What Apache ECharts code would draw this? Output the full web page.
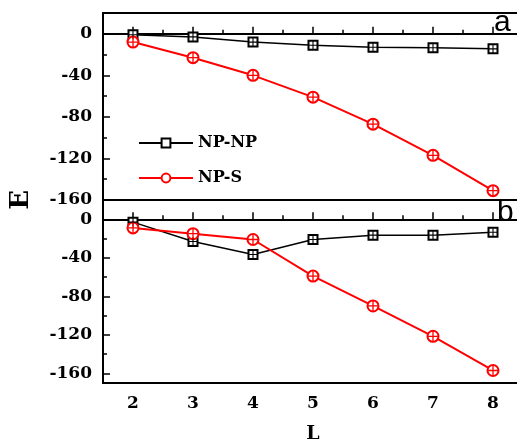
<!DOCTYPE html>
<html>
<head>
<meta charset="utf-8">
<script src="https://cdn.jsdelivr.net/npm/echarts@6/dist/echarts.min.js"></script>
<style>
html, body { margin: 0; padding: 0; background: #fff; overflow: hidden; }
#chart { width: 523px; height: 445px; }
</style>
</head>
<body>
<div id="chart"></div>
<script>
// L values and energies
var L = [2, 3, 4, 5, 6, 7, 8];
var aNPNP = [-1, -3, -8, -11, -13, -13.5, -14.5];
var aNPS = [-8, -23, -40, -61, -87, -117, -151];
var bNPNP = [-3, -23, -36.5, -21, -16.5, -16.5, -13.5];
var bNPS = [-9, -15, -21, -59, -90, -121.5, -157];

var xTicks = [2, 3, 4, 5, 6, 7, 8];
var xMinor = [2.5, 3.5, 4.5, 5.5, 6.5, 7.5];
var yTicks = [-160, -120, -80, -40, 0];
var yMinor = [-140, -100, -60, -20];

var serif = 'DejaVu Serif';
var plus = 'path://M0,4.4H10V5.6H0Z M4.4,0H5.6V10H4.4Z';

function pairs(ys) {
	return L.map(function (x, i) { return [x, ys[i]]; });
}

function xAx(grid, minor, labels) {
	return {
		type: 'value', gridIndex: grid, min: 1.5, max: 8.5, position: 'bottom',
		axisLine: { show: !minor, lineStyle: { color: '#000', width: 2 } },
		axisTick: {
			inside: true, length: minor ? 4 : 7,
			customValues: minor ? xMinor : xTicks,
			lineStyle: { color: '#000', width: 1.5 }
		},
		axisLabel: {
			show: labels, customValues: xTicks, margin: 12,
			color: '#000', fontFamily: serif, fontWeight: 'bold', fontSize: 17
		},
		name: labels ? 'L' : '', nameLocation: 'middle', nameGap: 42,
		nameTextStyle: { color: '#000', fontFamily: serif, fontWeight: 'bold', fontSize: 19 },
		splitLine: { show: false }
	};
}

function yAx(grid, minor, min) {
	return {
		type: 'value', gridIndex: grid, min: min, max: 20, position: 'left',
		axisLine: { show: !minor, lineStyle: { color: '#000', width: 2 } },
		axisTick: {
			inside: true, length: minor ? 4 : 7,
			customValues: minor ? yMinor : yTicks,
			lineStyle: { color: '#000', width: 1.5 }
		},
		axisLabel: {
			show: !minor, customValues: yTicks, margin: 11,
			color: '#000', fontFamily: serif, fontWeight: 'bold', fontSize: 17
		},
		splitLine: { show: false }
	};
}

function mainSeries(name, ys, xi, color, sym, size, width) {
	return {
		name: name, type: 'line', xAxisIndex: xi, yAxisIndex: xi,
		data: pairs(ys), symbol: sym, symbolSize: size,
		lineStyle: { color: color, width: width },
		itemStyle: { color: color, borderColor: color, borderWidth: 1.5 },
		z: 3
	};
}

function crossSeries(ys, xi, color, size) {
	return {
		name: '_', type: 'line', xAxisIndex: xi, yAxisIndex: xi,
		data: pairs(ys), symbol: plus, symbolSize: size,
		lineStyle: { opacity: 0 }, itemStyle: { color: color },
		silent: true, z: 4
	};
}

var chart = echarts.init(document.getElementById('chart'));
chart.setOption({
	animation: false,
	backgroundColor: '#fff',
	grid: [
		{ left: 103, right: 0, top: 13, height: 187, show: true, borderColor: '#000', borderWidth: 2 },
		{ left: 103, right: 0, top: 200, height: 187, show: true, borderColor: '#000', borderWidth: 2 }
	],
	xAxis: [xAx(0, false, false), xAx(0, true, false), xAx(1, false, true), xAx(1, true, false)],
	yAxis: [yAx(0, false, -160), yAx(0, true, -160), yAx(1, false, -170), yAx(1, true, -170)],
	legend: {
		data: ['NP-NP', 'NP-S'], orient: 'vertical', left: 133, top: 130,
		itemWidth: 54, itemHeight: 11, itemGap: 19,
		textStyle: { color: '#000', fontFamily: serif, fontWeight: 'bold', fontSize: 16 }
	},
	graphic: [
		{ type: 'text', left: 8, top: 190, rotation: Math.PI / 2,
			style: { text: 'E', fill: '#000', font: 'bold 26px "DejaVu Serif"' } },
		{ type: 'text', left: 494, top: 8,
			style: { text: 'a', fill: '#000', font: '30px "Liberation Sans"' } },
		{ type: 'text', left: 497, top: 198,
			style: { text: 'b', fill: '#000', font: '30px "Liberation Sans"' } }
	],
	series: [
		mainSeries('NP-NP', aNPNP, 0, '#000', 'emptyRect', 9, 1.5),
		crossSeries(aNPNP, 0, '#000', 9),
		mainSeries('NP-S', aNPS, 0, '#ff0000', 'emptyCircle', 11, 2),
		crossSeries(aNPS, 0, '#ff0000', 11),
		mainSeries('NP-NP', bNPNP, 2, '#000', 'emptyRect', 9, 1.5),
		crossSeries(bNPNP, 2, '#000', 9),
		mainSeries('NP-S', bNPS, 2, '#ff0000', 'emptyCircle', 11, 2),
		crossSeries(bNPS, 2, '#ff0000', 11)
	]
});
</script>
</body>
</html>
